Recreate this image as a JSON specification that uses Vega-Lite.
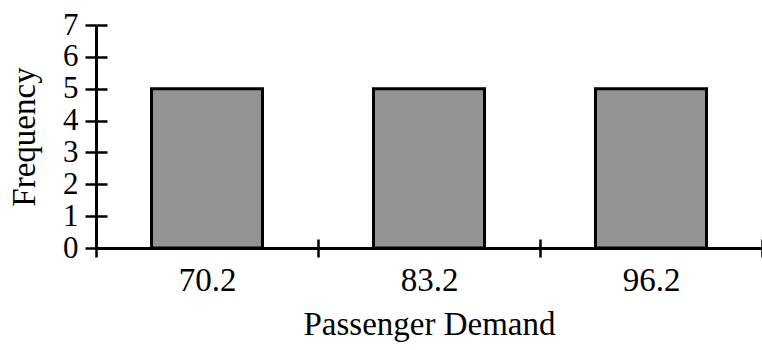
{
  "$schema": "https://vega.github.io/schema/vega-lite/v6.json",
  "width": 666,
  "height": 223,
  "autosize": {"type": "none"},
  "padding": {"left": 96, "top": 25, "right": 0, "bottom": 102},
  "background": "white",
  "config": {
    "view": {"stroke": null},
    "font": "Liberation Serif",
    "axis": {
      "labelFont": "Liberation Serif",
      "titleFont": "Liberation Serif",
      "labelFontSize": 33,
      "titleFontSize": 33,
      "labelColor": "black",
      "titleColor": "black",
      "titleFontWeight": "normal",
      "domainColor": "black",
      "tickColor": "black",
      "domainWidth": 3,
      "tickWidth": 2.5,
      "grid": false,
      "labelOverlap": false
    }
  },
  "data": {
    "values": [
      {"demand": "70.2", "frequency": 5},
      {"demand": "83.2", "frequency": 5},
      {"demand": "96.2", "frequency": 5}
    ]
  },
  "encoding": {
    "x": {
      "field": "demand",
      "type": "ordinal",
      "scale": {"paddingInner": 0, "paddingOuter": 0}
    },
    "y": {
      "field": "frequency",
      "type": "quantitative",
      "scale": {"domain": [0, 7], "nice": false}
    }
  },
  "layer": [
    {
      "mark": {"type": "bar", "width": {"band": 0.5}, "opacity": 0},
      "encoding": {
        "x": {
          "field": "demand",
          "type": "ordinal",
          "axis": {"orient": "bottom", "domain": false, "labels": false, "title": null, "tickBand": "extent", "tickSize": -9}
        },
        "y": {
          "field": "frequency",
          "type": "quantitative",
          "axis": {"orient": "left", "domain": false, "labels": false, "title": null, "values": [0, 1, 2, 3, 4, 5, 6, 7], "tickSize": -11}
        }
      }
    },
    {
      "mark": {"type": "bar", "width": {"band": 0.5}, "fill": "#939393", "stroke": "black", "strokeWidth": 3},
      "encoding": {
        "x": {
          "field": "demand",
          "type": "ordinal",
          "title": "Passenger Demand",
          "axis": {"orient": "bottom", "labelAngle": 0, "tickBand": "extent", "tickSize": 9, "labelPadding": 7, "titlePadding": 11}
        },
        "y": {
          "field": "frequency",
          "type": "quantitative",
          "title": "Frequency",
          "axis": {"orient": "left", "values": [0, 1, 2, 3, 4, 5, 6, 7], "tickSize": 11, "labelPadding": 7, "labelFontSize": 31, "titlePadding": 21}
        }
      }
    }
  ],
  "resolve": {"scale": {"x": "shared", "y": "shared"}, "axis": {"x": "independent", "y": "independent"}}
}
